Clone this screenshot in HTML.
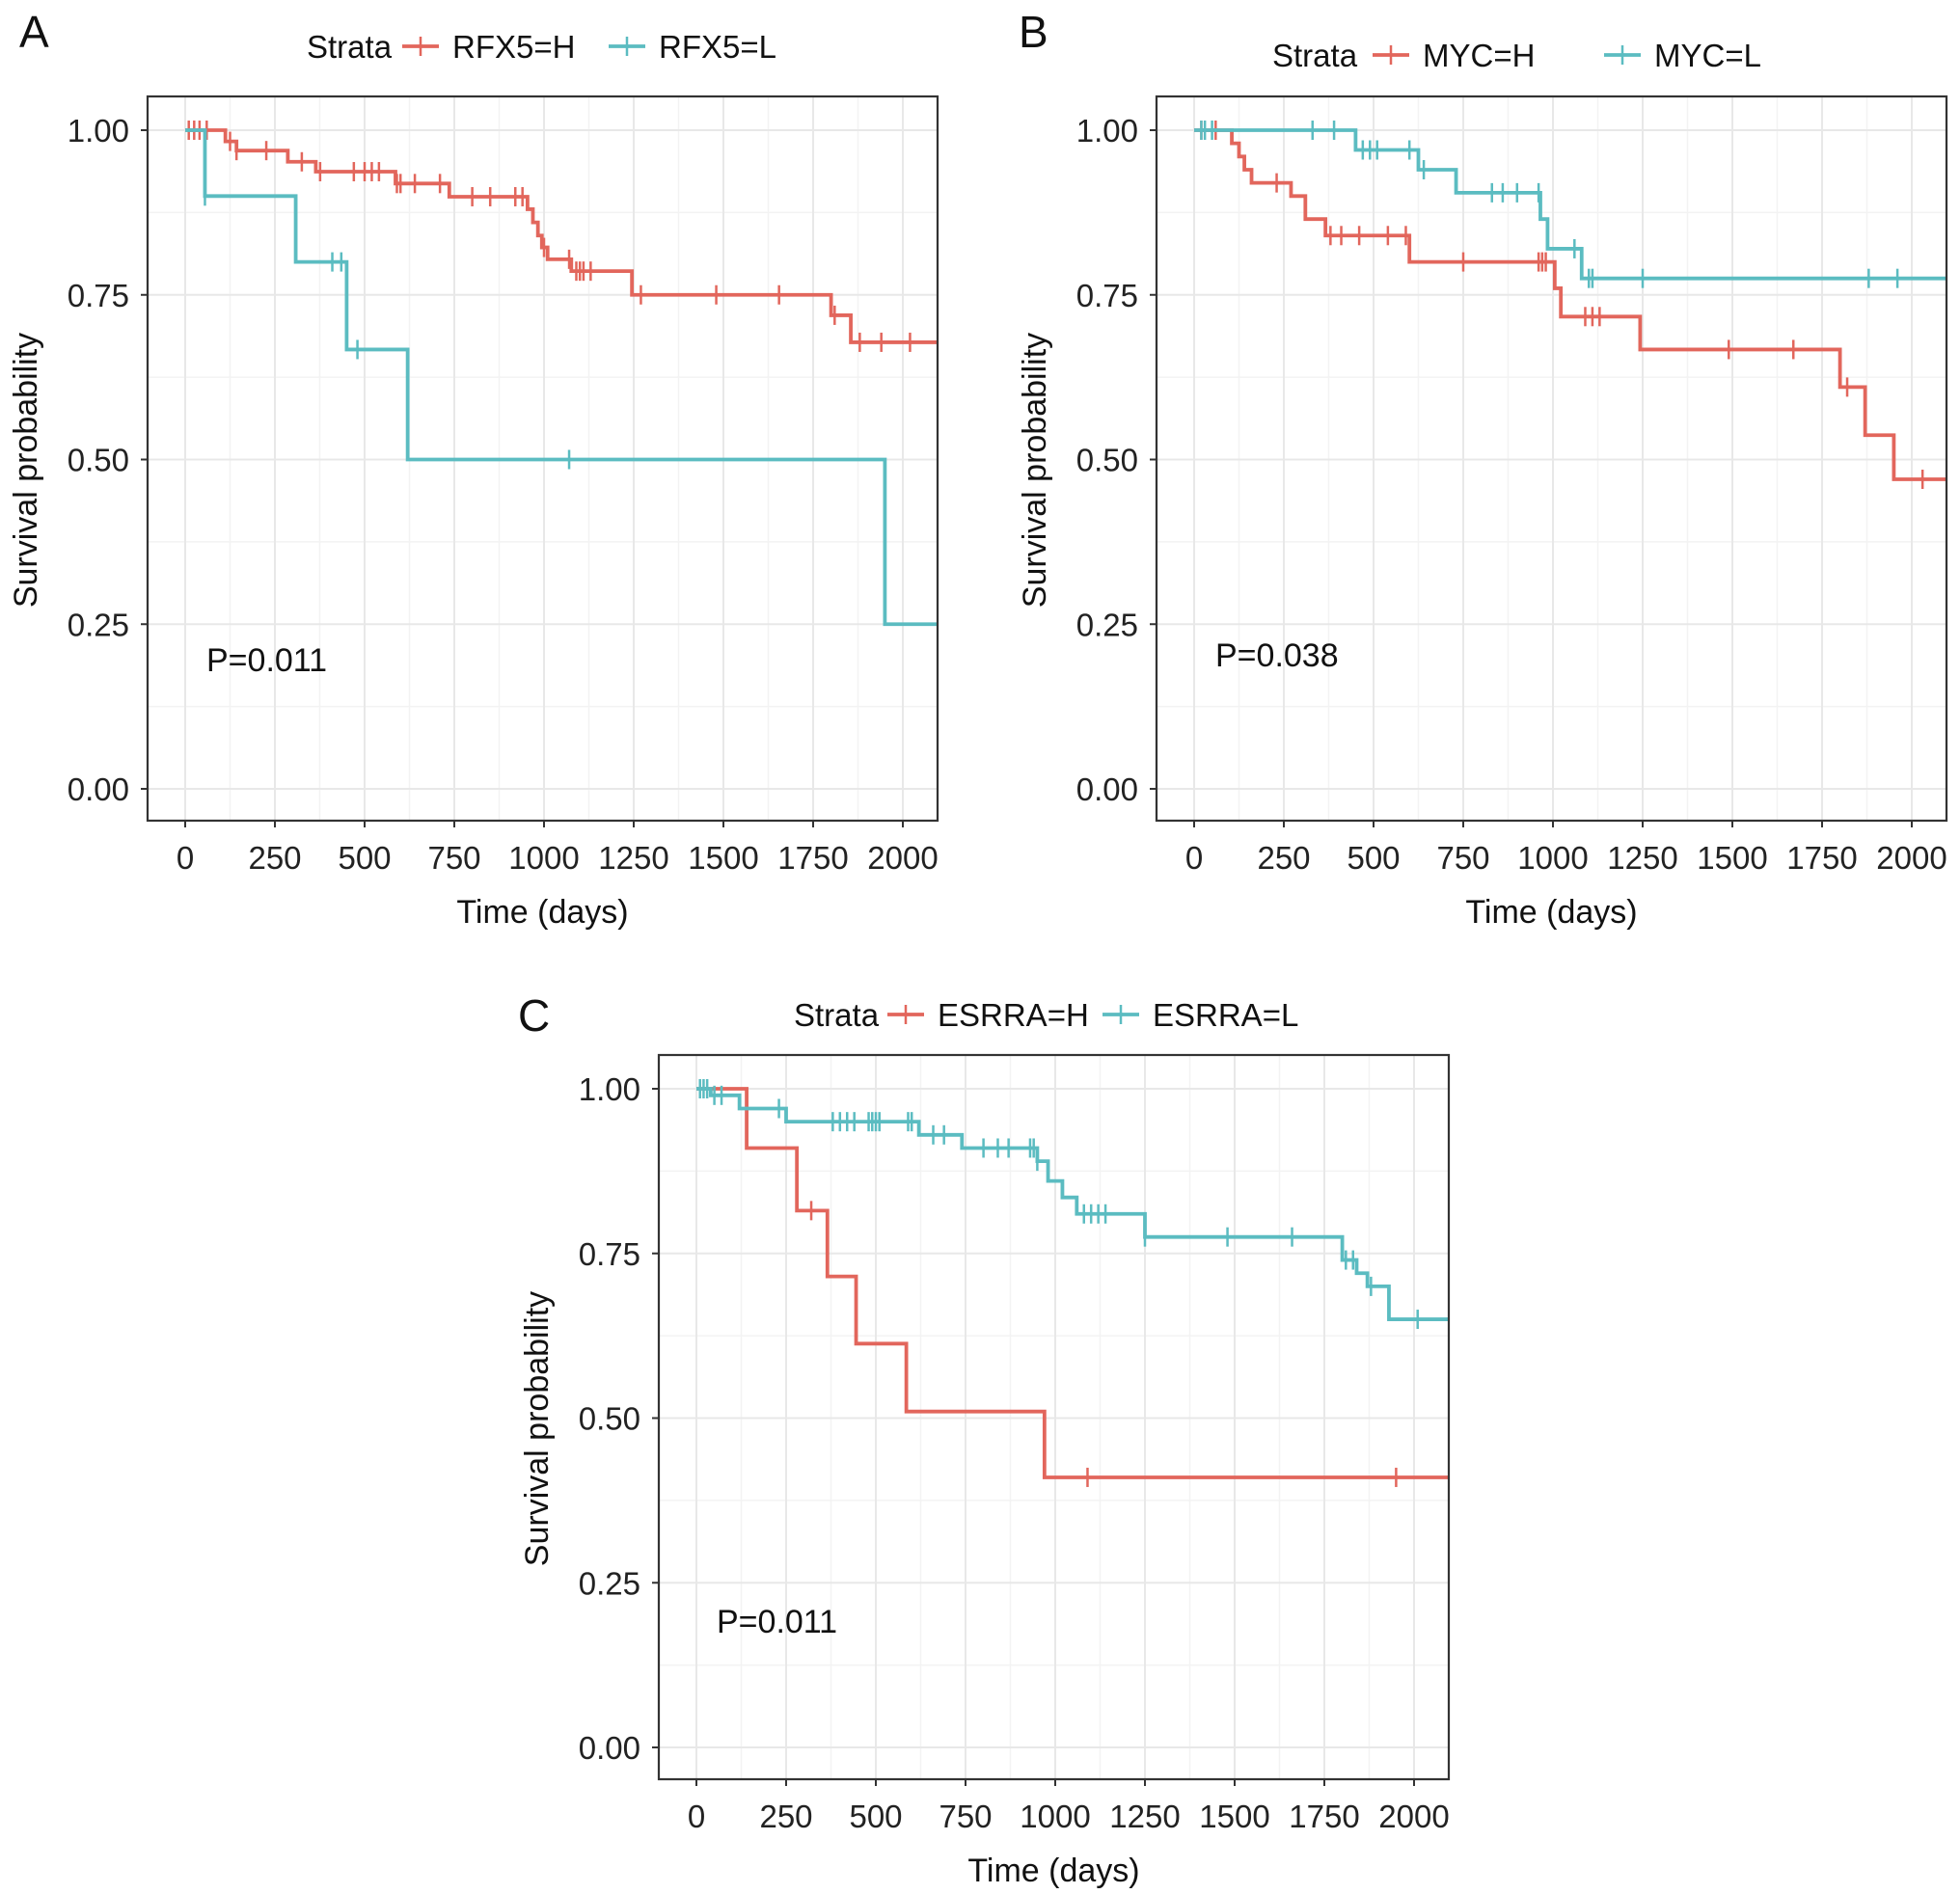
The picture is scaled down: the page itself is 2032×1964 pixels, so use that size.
<!DOCTYPE html>
<html><head><meta charset="utf-8"><style>
body{margin:0;background:#fff;}
svg{display:block;font-family:"Liberation Sans",Arial,sans-serif;}
</style></head><body>
<svg id="c" width="2032" height="1964" viewBox="0 0 2032 1964"></svg>
<script>
// ---- data ----
const xTicks=[0,250,500,750,1000,1250,1500,1750,2000];
const yTicks=[0,0.25,0.5,0.75,1.0];
const yTickLabels=["0.00","0.25","0.50","0.75","1.00"];
const aHighSteps=[[0,1],[112,0.983],[143,0.969],[286,0.952],[364,0.937],[586,0.919],[736,0.899],[954,0.88],[969,0.86],[983,0.84],[994,0.822],[1010,0.804],[1076,0.786],[1245,0.75],[1800,0.719],[1855,0.678]];
const aHighCensor=[10,25,40,60,125,143,226,325,376,470,500,520,540,590,600,640,710,800,850,920,940,1000,1070,1090,1100,1110,1130,1270,1480,1655,1810,1880,1940,2020];
const aLowSteps=[[0,1],[55,0.9],[308,0.8],[450,0.667],[620,0.5],[1950,0.25]];
const aLowCensor=[55,410,435,480,1070];
const bHighSteps=[[0,1],[105,0.98],[125,0.96],[140,0.94],[160,0.92],[270,0.9],[310,0.865],[366,0.84],[600,0.8],[1005,0.76],[1022,0.717],[1243,0.667],[1800,0.61],[1870,0.537],[1950,0.47]];
const bHighCensor=[20,60,230,380,410,460,540,590,750,960,970,980,1090,1110,1130,1490,1670,1820,2030];
const bLowSteps=[[0,1],[450,0.97],[625,0.94],[730,0.905],[965,0.865],[985,0.82],[1080,0.775]];
const bLowCensor=[20,30,50,330,390,470,490,510,600,640,830,860,900,960,1060,1100,1110,1250,1880,1960];
const cHighSteps=[[0,1],[140,0.91],[280,0.815],[365,0.715],[445,0.613],[585,0.51],[970,0.41]];
const cHighCensor=[320,1090,1950];
const cLowSteps=[[0,1],[40,0.99],[120,0.97],[250,0.95],[620,0.93],[740,0.91],[950,0.89],[980,0.86],[1020,0.835],[1060,0.81],[1250,0.775],[1800,0.74],[1840,0.72],[1870,0.7],[1930,0.65]];
const cLowCensor=[10,20,30,50,70,230,380,400,420,440,480,490,500,510,590,600,660,690,800,840,870,930,940,950,1080,1100,1120,1140,1250,1480,1660,1810,1830,1880,2010];

const RED="#E2665C", TEAL="#5BBCC1";
const NS="http://www.w3.org/2000/svg";
const svg=document.getElementById('c');
function mk(tag,attrs,parent){const e=document.createElementNS(NS,tag);for(const k in attrs)e.setAttribute(k,attrs[k]);(parent||svg).appendChild(e);return e;}

function panel(L,T,letter,letterPos,legend,p,pPos,series,name){
  const W=819,H=751;
  const g=mk('g',{});
  
  
  const xS=d=>L+39+d*744/2000;
  const yS=v=>T+718-v*683;
  for(let i=0;i<8;i++){const d=125+250*i;mk('line',{x1:xS(d),x2:xS(d),y1:T,y2:T+H,stroke:'#F3F3F3','stroke-width':1.5},g);}
  for(let v=0.125;v<1.1;v+=0.25){mk('line',{x1:L,x2:L+W,y1:yS(v),y2:yS(v),stroke:'#F3F3F3','stroke-width':1.5},g);}
  xTicks.forEach(d=>{const gl=mk('line',{x1:xS(d),x2:xS(d),y1:T,y2:T+H,stroke:'#E8E8E8','stroke-width':2},g);
    });
  yTicks.forEach(v=>{mk('line',{x1:L,x2:L+W,y1:yS(v),y2:yS(v),stroke:'#E8E8E8','stroke-width':2},g);});
  series.forEach(s=>{
    let d='';s.steps.forEach((st,i)=>{const x=xS(st[0]),y=yS(st[1]);
      if(i===0)d+='M'+x+' '+y;else d+='H'+x+'V'+y;});
    d+='H'+(L+W);
    const pth=mk('path',{d:d,fill:'none',stroke:s.color,'stroke-width':3.8},g);
    
    const val=t=>{let v=1;s.steps.forEach(st=>{if(st[0]<=t)v=st[1];});return v;};
    s.censor.forEach(t=>{const x=xS(t),y=yS(val(t));
      const m=mk('line',{x1:x,x2:x,y1:y-10,y2:y+10,stroke:s.color,'stroke-width':2.5},g);
      });
  });
  mk('rect',{x:L,y:T,width:W,height:H,fill:'none',stroke:'#333','stroke-width':2.2},g);
  xTicks.forEach(d=>{mk('line',{x1:xS(d),x2:xS(d),y1:T+H,y2:T+H+7,stroke:'#333','stroke-width':2},g);
    const t=mk('text',{x:xS(d),y:T+H+50,'text-anchor':'middle','font-size':33,fill:'#222'},g);t.textContent=d;
    });
  yTicks.forEach((v,i)=>{mk('line',{x1:L-7,x2:L,y1:yS(v),y2:yS(v),stroke:'#333','stroke-width':2},g);
    const t=mk('text',{x:L-19,y:yS(v)+12,'text-anchor':'end','font-size':33,fill:'#222'},g);t.textContent=yTickLabels[i];
    });
  const xt=mk('text',{x:L+W/2,y:T+H+106,'text-anchor':'middle','font-size':34,fill:'#111'},g);xt.textContent='Time (days)';
  
  const yy=T+H/2+12;
  const yt=mk('text',{x:L-115,y:yy,'text-anchor':'middle','font-size':34,fill:'#111',transform:'rotate(-90 '+(L-115)+' '+yy+')'},g);yt.textContent='Survival probability';
  
  const pt=mk('text',{x:pPos[0],y:pPos[1]+12,'font-size':34,fill:'#111'},g);pt.textContent=p;
  
  const lt=mk('text',{x:letterPos[0],y:letterPos[1]+17,'font-size':46,fill:'#111'},g);lt.textContent=letter;
  
  const ly=legend.y;
  const st=mk('text',{x:legend.x,y:ly+12,'font-size':33,fill:'#111'},g);st.textContent='Strata';
  
  series.forEach((s,i)=>{
    const lx=legend.lines[i];
    mk('line',{x1:lx,x2:lx+38,y1:ly,y2:ly,stroke:s.color,'stroke-width':3.8},g);
    mk('line',{x1:lx+19,x2:lx+19,y1:ly-10,y2:ly+10,stroke:s.color,'stroke-width':2.5},g);
    const e=mk('text',{x:lx+52,y:ly+12,'font-size':33,fill:'#111'},g);e.textContent=s.label;
    
  });
}
panel(153,100,'A',[20,32],{x:318,y:48,lines:[417,631]},'P=0.011',[214,684],
  [{steps:aHighSteps,censor:aHighCensor,color:RED,label:'RFX5=H',name:'rfx5-high'},
   {steps:aLowSteps,censor:aLowCensor,color:TEAL,label:'RFX5=L',name:'rfx5-low'}],'panel-a');
panel(1199,100,'B',[1056,32],{x:1319,y:57,lines:[1423,1663]},'P=0.038',[1260,679],
  [{steps:bHighSteps,censor:bHighCensor,color:RED,label:'MYC=H',name:'myc-high'},
   {steps:bLowSteps,censor:bLowCensor,color:TEAL,label:'MYC=L',name:'myc-low'}],'panel-b');
panel(683,1094,'C',[537,1052],{x:823,y:1052,lines:[920,1143]},'P=0.011',[743,1681],
  [{steps:cHighSteps,censor:cHighCensor,color:RED,label:'ESRRA=H',name:'esrra-high'},
   {steps:cLowSteps,censor:cLowCensor,color:TEAL,label:'ESRRA=L',name:'esrra-low'}],'panel-c');
</script>
</body></html>
